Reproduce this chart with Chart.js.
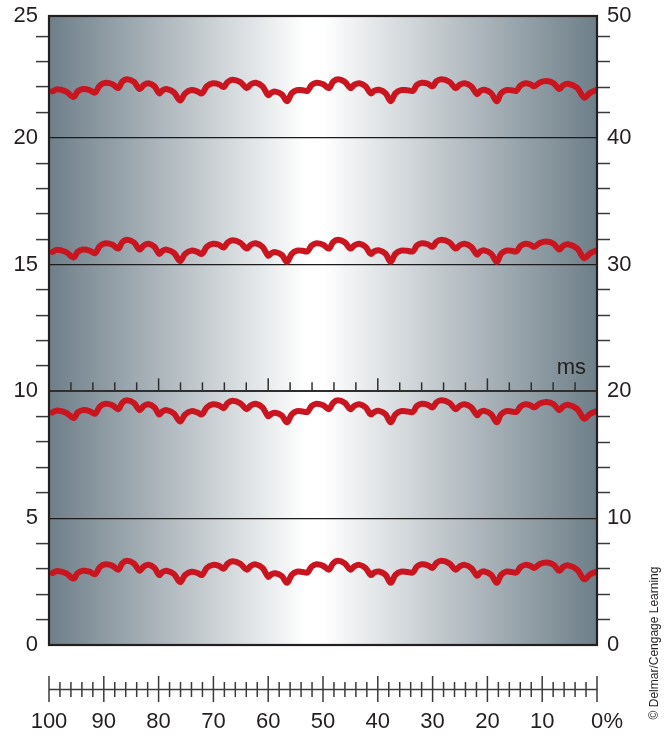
<!DOCTYPE html>
<html>
<head>
<meta charset="utf-8">
<script src="https://cdn.jsdelivr.net/npm/chart.js@4.4.0/dist/chart.umd.min.js"></script>
<style>
html,body{margin:0;padding:0;background:#fff;}
#wrap{width:669px;height:738px;position:relative;}
</style>
</head>
<body>
<div id="wrap"><canvas id="c" width="669" height="738"></canvas></div>
<script>
// ---- data (time in ms-divisions, 0..25 across the screen) ----
const traceTime = [0.16,0.37,0.78,1.12,1.31,1.55,1.85,2.10,2.32,2.59,
  2.90,3.16,3.34,3.56,3.88,4.13,4.32,4.54,4.81,5.03,
  5.18,5.36,5.70,5.98,6.21,6.50,6.76,6.98,7.20,7.48,
  7.75,7.97,8.15,8.37,8.73,9.02,9.21,9.43,9.74,10.00,
  10.15,10.33,10.62,10.86,11.07,11.31,11.58,11.79,11.98,12.20,
  12.51,12.77,12.96,13.18,13.49,13.75,13.93,14.16,14.44,14.68,
  14.84,15.06,15.35,15.59,15.80,16.06,16.35,16.60,16.78,17.01,
  17.28,17.50,17.68,17.90,18.26,18.55,18.74,18.96,19.27,19.53,
  19.68,19.86,20.17,20.43,20.62,20.85,21.11,21.32,21.51,21.73,
  21.96,22.14,22.39,22.71,23.02,23.28,23.46,23.68,24.09,24.42,
  24.68,24.99];
const traceTop = [21.83,21.91,21.82,21.61,21.83,21.92,21.88,21.78,22.06,22.17,
  22.11,21.96,22.21,22.31,22.20,21.92,22.08,22.15,22.03,21.75,
  21.87,21.92,21.79,21.47,21.75,21.88,21.83,21.75,22.03,22.15,
  22.11,22.00,22.20,22.29,22.19,21.96,22.11,22.17,22.03,21.68,
  21.78,21.82,21.71,21.44,21.75,21.88,21.87,21.85,22.08,22.17,
  22.11,21.96,22.21,22.31,22.21,21.96,22.09,22.15,22.03,21.75,
  21.85,21.89,21.76,21.44,21.75,21.88,21.87,21.85,22.08,22.17,
  22.13,22.03,22.23,22.31,22.21,21.96,22.09,22.15,22.02,21.72,
  21.85,21.89,21.76,21.44,21.75,21.88,21.87,21.85,22.06,22.15,
  22.11,22.03,22.18,22.24,22.15,21.92,22.07,22.13,21.97,21.58,
  21.77,21.89];
const traceSecond = [15.50,15.58,15.49,15.28,15.50,15.59,15.55,15.45,15.73,15.84,
  15.78,15.63,15.88,15.98,15.87,15.59,15.75,15.82,15.70,15.42,
  15.54,15.59,15.46,15.14,15.42,15.55,15.50,15.42,15.70,15.82,
  15.78,15.67,15.87,15.96,15.86,15.63,15.78,15.84,15.70,15.35,
  15.45,15.49,15.38,15.11,15.42,15.55,15.54,15.52,15.75,15.84,
  15.78,15.63,15.88,15.98,15.88,15.63,15.76,15.82,15.70,15.42,
  15.52,15.56,15.43,15.11,15.42,15.55,15.54,15.52,15.75,15.84,
  15.80,15.70,15.90,15.98,15.88,15.63,15.76,15.82,15.69,15.39,
  15.52,15.56,15.43,15.11,15.42,15.55,15.54,15.52,15.73,15.82,
  15.78,15.70,15.85,15.91,15.82,15.59,15.74,15.80,15.64,15.25,
  15.44,15.56];
const traceThird = [9.17,9.25,9.16,8.95,9.17,9.26,9.22,9.12,9.40,9.51,
  9.45,9.30,9.55,9.65,9.54,9.26,9.42,9.49,9.37,9.09,
  9.21,9.26,9.13,8.81,9.09,9.22,9.17,9.09,9.37,9.49,
  9.45,9.34,9.54,9.63,9.53,9.30,9.45,9.51,9.37,9.02,
  9.12,9.16,9.05,8.78,9.09,9.22,9.21,9.19,9.42,9.51,
  9.45,9.30,9.55,9.65,9.55,9.30,9.43,9.49,9.37,9.09,
  9.19,9.23,9.10,8.78,9.09,9.22,9.21,9.19,9.42,9.51,
  9.47,9.37,9.57,9.65,9.55,9.30,9.43,9.49,9.36,9.06,
  9.19,9.23,9.10,8.78,9.09,9.22,9.21,9.19,9.40,9.49,
  9.45,9.37,9.52,9.58,9.49,9.26,9.41,9.47,9.31,8.92,
  9.11,9.23];
const traceBottom = [2.84,2.92,2.83,2.62,2.84,2.93,2.89,2.79,3.07,3.18,
  3.12,2.97,3.22,3.32,3.21,2.93,3.09,3.16,3.04,2.76,
  2.88,2.93,2.80,2.48,2.76,2.89,2.84,2.76,3.04,3.16,
  3.12,3.01,3.21,3.30,3.20,2.97,3.12,3.18,3.04,2.69,
  2.79,2.83,2.72,2.45,2.76,2.89,2.88,2.86,3.09,3.18,
  3.12,2.97,3.22,3.32,3.22,2.97,3.10,3.16,3.04,2.76,
  2.86,2.90,2.77,2.45,2.76,2.89,2.88,2.86,3.09,3.18,
  3.14,3.04,3.24,3.32,3.22,2.97,3.10,3.16,3.03,2.73,
  2.86,2.90,2.77,2.45,2.76,2.89,2.88,2.86,3.07,3.16,
  3.12,3.04,3.19,3.25,3.16,2.93,3.08,3.14,2.98,2.59,
  2.78,2.90];

// ---- axis ticks & labels ----
const leftMajorValues = [0,5,10,15,20,24.8];
const leftMajorLabels = ['0','5','10','15','20','25'];
const leftMinorValues = [1,2,3,4,6,7,8,9,11,12,13,14,16,17,18,19,21,22,23,24];
const rightMajorValues = [0,10,20,30,40,49.6];
const rightMajorLabels = ['0','10','20','30','40','50'];
const rightMinorValues = [2,4,6,8,12,14,16,18,22,24,26,28,32,34,36,38,42,44,46,48];
const pctMajorValues = [100,90,80,70,60,50,40,30,20,10,0];
const pctMajorLabels = ['100','90','80','70','60','50','40','30','20','10','0'];
const pctMinorValues = [98,96,94,92,88,86,84,82,78,76,74,72,68,66,64,62,58,56,54,52,48,46,44,42,38,36,34,32,28,26,24,22,18,16,14,12,8,6,4,2];
const msTickValues = [1,2,3,4,5,6,7,8,9,10,11,12,13,14,15,16,17,18,19,20,21,22,23,24];
const msMajorValues = [5,10,15,20];
const refLineValues = [5,15,20];
const msLineValue = 10;
const percentSign = '%';
const msLabel = 'ms';
const creditText = '\u00A9 Delmar/Cengage Learning';

const FONT = '"Liberation Sans", Arial, Helvetica, sans-serif';
const TEXT = '#231f20';
const RED = '#c9151f';

function pts(vals){ return traceTime.map((t,i)=>({x:t,y:vals[i]})); }
function ds(vals){
  return {data:pts(vals), borderColor:RED, borderWidth:6, pointRadius:0, tension:0.35,
          fill:false, xAxisID:'ms', yAxisID:'y', borderCapStyle:'round', borderJoinStyle:'round'};
}

const scopePlugin = {
  id:'scope',
  beforeDraw(chart){
    const {ctx, chartArea:a} = chart;
    const g = ctx.createLinearGradient(a.left,0,a.right,0);
    g.addColorStop(0,'#6e7f89');
    g.addColorStop(0.47,'#ffffff');
    g.addColorStop(0.5,'#ffffff');
    g.addColorStop(1,'#6e7f89');
    ctx.save();
    ctx.fillStyle = g;
    ctx.fillRect(a.left,a.top,a.right-a.left,a.bottom-a.top);
    ctx.restore();
  },
  beforeDatasetsDraw(chart){
    const {ctx} = chart;
    const ms = chart.scales.ms;
    const y = chart.scales.y.getPixelForValue(msLineValue);
    ctx.save();
    ctx.strokeStyle = '#2f2f2f';
    ctx.lineWidth = 1.5;
    msTickValues.forEach(v=>{
      const x = ms.getPixelForValue(v);
      const len = msMajorValues.includes(v) ? 13 : 9;
      ctx.beginPath(); ctx.moveTo(x,y); ctx.lineTo(x,y-len); ctx.stroke();
    });
    ctx.fillStyle = TEXT;
    ctx.font = '22px ' + FONT;
    ctx.textAlign = 'right';
    ctx.textBaseline = 'alphabetic';
    ctx.fillText(msLabel, chart.chartArea.right - 11, y - 17);
    ctx.restore();
  },
  afterDraw(chart){
    const {ctx, chartArea:a} = chart;
    const px = chart.scales.x;
    ctx.save();
    // frame
    ctx.strokeStyle = '#231f20';
    ctx.lineWidth = 2.2;
    ctx.strokeRect(a.left, a.top, a.right-a.left, a.bottom-a.top);
    // ruler
    const ry = a.bottom + 44.5;
    ctx.strokeStyle = '#3a3a3a';
    ctx.lineWidth = 1.5;
    ctx.beginPath(); ctx.moveTo(px.getPixelForValue(100), ry); ctx.lineTo(px.getPixelForValue(0), ry); ctx.stroke();
    pctMajorValues.forEach(v=>{
      const x = px.getPixelForValue(v);
      ctx.beginPath(); ctx.moveTo(x, ry-13.5); ctx.lineTo(x, ry+12.5); ctx.stroke();
    });
    pctMinorValues.forEach(v=>{
      const x = px.getPixelForValue(v);
      ctx.beginPath(); ctx.moveTo(x, ry-7.5); ctx.lineTo(x, ry+7.5); ctx.stroke();
    });
    // percent sign after the 0 label
    ctx.fillStyle = TEXT;
    ctx.font = '22px ' + FONT;
    ctx.textBaseline = 'middle';
    ctx.textAlign = 'left';
    const x0 = px.getPixelForValue(0);
    const w0 = ctx.measureText('0').width;
    ctx.fillText(percentSign, x0 + w0/2 + 0.5, a.bottom + 64 + 13.2);
    // credit
    ctx.font = '12px ' + FONT;
    ctx.translate(655, 643);
    ctx.rotate(-Math.PI/2);
    ctx.textAlign = 'center';
    ctx.textBaseline = 'middle';
    ctx.fillText(creditText, 0, 0);
    ctx.restore();
  }
};

new Chart(document.getElementById('c'), {
  type:'line',
  data:{ datasets:[ds(traceTop), ds(traceSecond), ds(traceThird), ds(traceBottom)] },
  options:{
    responsive:false, animation:false, devicePixelRatio:1, events:[],
    layout:{padding:{top:16,left:0,right:0,bottom:0}},
    plugins:{legend:{display:false}, tooltip:{enabled:false}},
    scales:{
      ms:{type:'linear', display:false, min:0, max:25, position:'bottom'},
      x:{type:'linear', position:'bottom', min:0, max:100, reverse:true,
         afterBuildTicks:(s)=>{ s.ticks = pctMajorValues.slice().sort((a,b)=>a-b).map(v=>({value:v})); },
         afterFit:(s)=>{ s.height = 93; },
         grid:{display:false, drawTicks:false, drawOnChartArea:false},
         border:{display:false},
         ticks:{autoSkip:false, maxRotation:0, padding:64, color:TEXT, font:{family:FONT,size:22},
                callback:(v)=>{ const i = pctMajorValues.indexOf(v); return i>=0 ? pctMajorLabels[i] : ''; }}
      },
      y:{type:'linear', position:'left', min:0, max:24.8,
         afterBuildTicks:(s)=>{ s.ticks = leftMajorValues.concat(leftMinorValues).sort((a,b)=>a-b).map(v=>({value:v})); },
         afterFit:(s)=>{ s.width = 49; },
         grid:{drawOnChartArea:true, drawTicks:true, tickLength:13, tickWidth:1.5,
               color:(c)=>{ const v=c.tick && c.tick.value; return refLineValues.includes(v) ? '#1c1c1c' : (v===msLineValue ? '#2f2f2f' : 'rgba(0,0,0,0)'); },
               lineWidth:(c)=>{ const v=c.tick && c.tick.value; return v===msLineValue ? 2 : 1.2; },
               tickColor:(c)=>{ const v=c.tick && c.tick.value; return leftMajorValues.includes(v) ? 'rgba(0,0,0,0)' : '#3a3a3a'; }},
         border:{display:false},
         ticks:{autoSkip:false, padding:-2, color:TEXT, font:{family:FONT,size:22},
                callback:(v)=>{ const i = leftMajorValues.indexOf(v); return i>=0 ? leftMajorLabels[i] : ''; }}
      },
      y2:{type:'linear', position:'right', min:0, max:49.6,
         afterBuildTicks:(s)=>{ s.ticks = rightMajorValues.concat(rightMinorValues).sort((a,b)=>a-b).map(v=>({value:v})); },
         afterFit:(s)=>{ s.width = 72; },
         grid:{drawOnChartArea:false, drawTicks:true, tickLength:13, tickWidth:1.5,
               tickColor:(c)=>{ const v=c.tick && c.tick.value; return rightMajorValues.includes(v) ? 'rgba(0,0,0,0)' : '#3a3a3a'; }},
         border:{display:false},
         ticks:{autoSkip:false, padding:-3, color:TEXT, font:{family:FONT,size:22},
                callback:(v)=>{ const i = rightMajorValues.indexOf(v); return i>=0 ? rightMajorLabels[i] : ''; }}
      }
    }
  },
  plugins:[scopePlugin]
});
</script>
</body>
</html>
